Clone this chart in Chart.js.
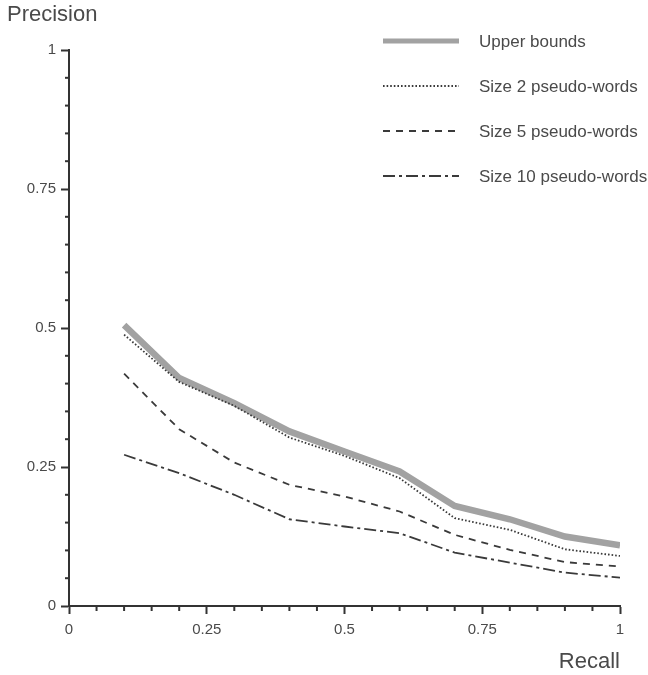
<!DOCTYPE html>
<html>
<head>
<meta charset="utf-8">
<script src="https://cdn.jsdelivr.net/npm/chart.js@4"></script>
<style>
  body { margin: 0; background: #fff; }
  canvas { display: block; }
</style>
</head>
<body>
<canvas id="prChart" width="648" height="675"></canvas>
<script>
// Data
const recall = [0.1, 0.2, 0.3, 0.4, 0.5, 0.6, 0.7, 0.8, 0.9, 1.0];
const upperBounds = [0.505, 0.41, 0.365, 0.314, 0.278, 0.242, 0.18, 0.156, 0.125, 0.109];
const size2 = [0.488, 0.403, 0.36, 0.303, 0.27, 0.23, 0.158, 0.137, 0.102, 0.09];
const size5 = [0.418, 0.318, 0.258, 0.218, 0.197, 0.17, 0.128, 0.101, 0.079, 0.071];
const size10 = [0.272, 0.239, 0.2, 0.156, 0.143, 0.131, 0.096, 0.078, 0.06, 0.051];
const seriesNames = ['Upper bounds', 'Size 2 pseudo-words', 'Size 5 pseudo-words', 'Size 10 pseudo-words'];
const majorTicks = [0, 0.25, 0.5, 0.75, 1];

const FONT = '"Liberation Sans", Arial, Helvetica, sans-serif';
const AXIS = '#333';
const TEXT = '#4a4a4a';
const INK = '#3a3a3a';

const toPoints = values => values.map((v, i) => ({ x: recall[i], y: v }));
const isMajor = v => majorTicks.some(m => Math.abs(m - v) < 1e-6);

// Short minor ticks, titles and the legend
const decorations = {
    id: 'decorations',
    afterDraw(chart) {
        const ctx = chart.ctx;
        const xs = chart.scales.x;
        const ys = chart.scales.y;
        const area = chart.chartArea;

        ctx.save();
        ctx.strokeStyle = AXIS;
        ctx.lineWidth = 2;
        xs.ticks.forEach(t => {
            if (isMajor(t.value)) return;
            const px = xs.getPixelForValue(t.value);
            ctx.beginPath();
            ctx.moveTo(px, area.bottom);
            ctx.lineTo(px, area.bottom + 5);
            ctx.stroke();
        });
        ys.ticks.forEach(t => {
            if (isMajor(t.value)) return;
            const py = ys.getPixelForValue(t.value);
            ctx.beginPath();
            ctx.moveTo(area.left, py);
            ctx.lineTo(area.left - 4, py);
            ctx.stroke();
        });

        // axis titles
        ctx.fillStyle = TEXT;
        ctx.font = '22px ' + FONT;
        ctx.textBaseline = 'alphabetic';
        ctx.textAlign = 'left';
        ctx.fillText('Precision', 7, 21);
        ctx.textAlign = 'right';
        ctx.fillText('Recall', area.right, 668);

        // legend
        ctx.font = '17px ' + FONT;
        ctx.textAlign = 'left';
        ctx.textBaseline = 'middle';
        chart.data.datasets.forEach((ds, i) => {
            const y = 41 + i * 45;
            ctx.strokeStyle = ds.borderColor;
            ctx.lineWidth = ds.borderWidth > 4 ? 5 : ds.borderWidth;
            ctx.setLineDash(ds.borderDash || []);
            ctx.beginPath();
            ctx.moveTo(383, y);
            ctx.lineTo(459, y);
            ctx.stroke();
            ctx.setLineDash([]);
            ctx.fillStyle = TEXT;
            ctx.fillText(ds.label, 479, y + 1);
        });
        ctx.restore();
    }
};

const tickFont = { family: FONT, size: 15 };

new Chart(document.getElementById('prChart'), {
    type: 'line',
    data: {
        datasets: [
            {
                label: seriesNames[0],
                data: toPoints(upperBounds),
                borderColor: '#a2a2a2',
                borderWidth: 6.5,
                order: 1
            },
            {
                label: seriesNames[1],
                data: toPoints(size2),
                borderColor: INK,
                borderWidth: 1.8,
                borderDash: [1.6, 2],
                order: 0
            },
            {
                label: seriesNames[2],
                data: toPoints(size5),
                borderColor: INK,
                borderWidth: 1.8,
                borderDash: [7, 6],
                order: 0
            },
            {
                label: seriesNames[3],
                data: toPoints(size10),
                borderColor: INK,
                borderWidth: 1.8,
                borderDash: [12, 4, 3, 4],
                order: 0
            }
        ]
    },
    options: {
        responsive: false,
        animation: false,
        elements: {
            point: { radius: 0, hoverRadius: 0 },
            line: { tension: 0, fill: false }
        },
        layout: {
            padding: { top: 50, right: 28, left: 0, bottom: 0 }
        },
        plugins: {
            legend: { display: false },
            title: { display: false },
            tooltip: { enabled: false }
        },
        scales: {
            x: {
                type: 'linear',
                min: 0,
                max: 1,
                afterFit: scale => { scale.height = 69; },
                border: { display: true, color: AXIS, width: 2 },
                grid: {
                    drawOnChartArea: false,
                    drawTicks: true,
                    tickLength: 8,
                    tickWidth: 2,
                    tickColor: c => (c.tick && isMajor(c.tick.value)) ? AXIS : 'rgba(0,0,0,0)'
                },
                ticks: {
                    stepSize: 0.05,
                    autoSkip: false,
                    maxRotation: 0,
                    padding: 7,
                    color: TEXT,
                    font: tickFont,
                    callback: v => isMajor(v) ? String(+v.toFixed(2)) : ''
                }
            },
            y: {
                type: 'linear',
                min: 0,
                max: 1,
                afterFit: scale => { scale.width = 69; },
                border: { display: true, color: AXIS, width: 2 },
                grid: {
                    drawOnChartArea: false,
                    drawTicks: true,
                    tickLength: 8,
                    tickWidth: 2,
                    tickColor: c => (c.tick && isMajor(c.tick.value)) ? AXIS : 'rgba(0,0,0,0)'
                },
                ticks: {
                    stepSize: 0.05,
                    autoSkip: false,
                    padding: 5,
                    color: TEXT,
                    font: tickFont,
                    callback: v => isMajor(v) ? String(+v.toFixed(2)) : ''
                }
            }
        }
    },
    plugins: [decorations]
});
</script>
</body>
</html>
